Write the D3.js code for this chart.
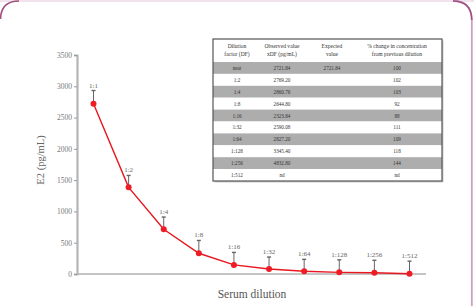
<!DOCTYPE html>
<html>
<head>
<meta charset="utf-8">
<script src="https://cdn.jsdelivr.net/npm/d3@7"></script>
<style>
  body { margin: 0; background: #fff; }
  svg { display: block; }
  text { font-family: "Liberation Serif", "DejaVu Serif", serif; }
</style>
</head>
<body>
<div id="chart"></div>
<script>
// chart data
var dilutions = ["1:1", "1:2", "1:4", "1:8", "1:16", "1:32", "1:64", "1:128", "1:256", "1:512"];
var e2Values = [2722, 1385, 715, 331, 145, 81, 44, 26, 19, 5];
var e2Errors = [210, 190, 195, 205, 200, 190, 190, 200, 200, 200];
var yTicks = [0, 500, 1000, 1500, 2000, 2500, 3000, 3500];

// inset table
var tableHeader = [
    ["Dilution", "factor (DF)"],
    ["Observed value", "xDF (pg/mL)"],
    ["Expected", "value"],
    ["% change in concentration", "from previous dilution"]
];
var tableFactor = ["neat", "1:2", "1:4", "1:8", "1:16", "1:32", "1:64", "1:128", "1:256", "1:512"];
var tableObserved = ["2721.84", "2769.20", "2860.76", "2644.80", "2323.84", "2590.08", "2827.20", "3345.40", "4832.80", "nd"];
var tableExpected = ["2721.84", "", "", "", "", "", "", "", "", ""];
var tableChange = ["100", "102", "103", "92", "88", "111", "109", "118", "144", "nd"];

var svgWidth = 474, svgHeight = 306;
var margin = { left: 77, right: 48, top: 55, bottom: 32 };

var svg = d3.select("#chart").append("svg")
    .attr("width", svgWidth)
    .attr("height", svgHeight);

// frame
svg.append("rect")
    .attr("x", 0).attr("y", 0)
    .attr("width", svgWidth).attr("height", 2)
    .attr("fill", "#f1e2eb");
svg.append("path")
    .attr("d", "M453,1 Q471.5,1 471.8,20 L471.8," + svgHeight)
    .attr("fill", "none")
    .attr("stroke", "#c9a2c3")
    .attr("stroke-width", 1.8);
svg.append("path")
    .attr("d", "M0.5,19 Q1,1 19,1")
    .attr("fill", "none")
    .attr("stroke", "#a0517f")
    .attr("stroke-width", 1.6);
svg.append("path")
    .attr("d", "M453,1 Q471.5,1 471.8,20")
    .attr("fill", "none")
    .attr("stroke", "#a0517f")
    .attr("stroke-width", 1.6);

var x = d3.scalePoint()
    .domain(dilutions)
    .range([margin.left, svgWidth - margin.right])
    .padding(0.47);

var y = d3.scaleLinear()
    .domain([0, 3500])
    .range([svgHeight - margin.bottom, margin.top]);

// x axis line
svg.append("line")
    .attr("x1", margin.left).attr("x2", svgWidth - margin.right)
    .attr("y1", y(0)).attr("y2", y(0))
    .attr("stroke", "#8a8a8a")
    .attr("stroke-width", 1);

// y axis
var yAxis = svg.append("g")
    .attr("transform", `translate(${margin.left},0)`)
    .call(d3.axisLeft(y).tickValues(yTicks).tickFormat(d3.format("d")).tickSize(3).tickPadding(2));
yAxis.select(".domain")
    .attr("stroke", "#b5b5b5")
    .attr("stroke-width", 2.2);
yAxis.selectAll(".tick line").attr("stroke", "#999");
yAxis.selectAll("text")
    .attr("fill", "#777")
    .style("font-size", "7.5px")
    .style("font-family", "Liberation Serif, serif");

svg.append("text")
    .attr("transform", `translate(44, 160) rotate(-90)`)
    .attr("text-anchor", "middle")
    .attr("fill", "#666")
    .style("font-size", "10.5px")
    .text("E2 (pg/mL)");

svg.append("text")
    .attr("x", 252).attr("y", 298)
    .attr("text-anchor", "middle")
    .attr("fill", "#555")
    .style("font-size", "11.5px")
    .text("Serum dilution");

var pts = dilutions.map(function (d, i) {
    return { label: d, value: e2Values[i], err: e2Errors[i] };
});

// error bars
var eb = svg.append("g").attr("stroke", "#666").attr("stroke-width", 1);
eb.selectAll("line.v").data(pts).enter().append("line")
    .attr("x1", (d) => x(d.label)).attr("x2", (d) => x(d.label))
    .attr("y1", (d) => y(d.value)).attr("y2", (d) => y(d.value + d.err));
eb.selectAll("line.c").data(pts).enter().append("line")
    .attr("x1", (d) => x(d.label) - 2).attr("x2", (d) => x(d.label) + 2)
    .attr("y1", (d) => y(d.value + d.err)).attr("y2", (d) => y(d.value + d.err))
    .attr("stroke-width", 1.4);

// line
var line = d3.line()
    .x((d) => x(d.label))
    .y((d) => y(d.value));
svg.append("path")
    .datum(pts)
    .attr("d", line)
    .attr("fill", "none")
    .attr("stroke", "#e8161e")
    .attr("stroke-width", 1.4);

svg.selectAll("circle.pt").data(pts).enter().append("circle")
    .attr("cx", (d) => x(d.label))
    .attr("cy", (d) => y(d.value))
    .attr("r", 3)
    .attr("fill", "#ee1c24");

// point labels
svg.selectAll("text.lbl").data(pts).enter().append("text")
    .attr("x", (d) => x(d.label))
    .attr("y", (d) => y(d.value + d.err) - 3)
    .attr("text-anchor", "middle")
    .attr("fill", "#666")
    .style("font-size", "7px")
    .text((d) => d.label);

// inset table
var tX = 213, tY = 39, tW = 229, headH = 23, rowH = 11.9;
var colX = [237, 282, 332, 397];
var table = svg.append("g");
var rows = tableFactor.map(function (f, i) {
    return [f, tableObserved[i], tableExpected[i], tableChange[i]];
});
table.append("rect")
    .attr("x", tX + 1.5).attr("y", tY + 1.5)
    .attr("width", tW).attr("height", headH + rows.length * rowH)
    .attr("fill", "#ccc");
table.append("rect")
    .attr("x", tX).attr("y", tY)
    .attr("width", tW).attr("height", headH + rows.length * rowH)
    .attr("fill", "#fff");
table.selectAll("rect.row").data(rows).enter().append("rect")
    .attr("x", tX).attr("y", (d, i) => tY + headH + i * rowH)
    .attr("width", tW).attr("height", rowH)
    .attr("fill", (d, i) => i % 2 === 0 ? "#adadad" : "#fff");
table.append("rect")
    .attr("x", tX).attr("y", tY)
    .attr("width", tW).attr("height", headH + rows.length * rowH)
    .attr("fill", "none")
    .attr("stroke", "#555")
    .attr("stroke-width", 1.2);

tableHeader.forEach(function (h, c) {
    h.forEach(function (t, k) {
        table.append("text")
            .attr("x", colX[c]).attr("y", tY + 9 + k * 8)
            .attr("text-anchor", "middle")
            .attr("fill", "#333")
            .style("font-size", "5.6px")
            .text(t);
    });
});
rows.forEach(function (r, i) {
    r.forEach(function (t, c) {
        table.append("text")
            .attr("x", colX[c]).attr("y", tY + headH + i * rowH + rowH / 2 + 2)
            .attr("text-anchor", "middle")
            .attr("fill", "#333")
            .style("font-size", "5.2px")
            .text(t);
    });
});
</script>
</body>
</html>
